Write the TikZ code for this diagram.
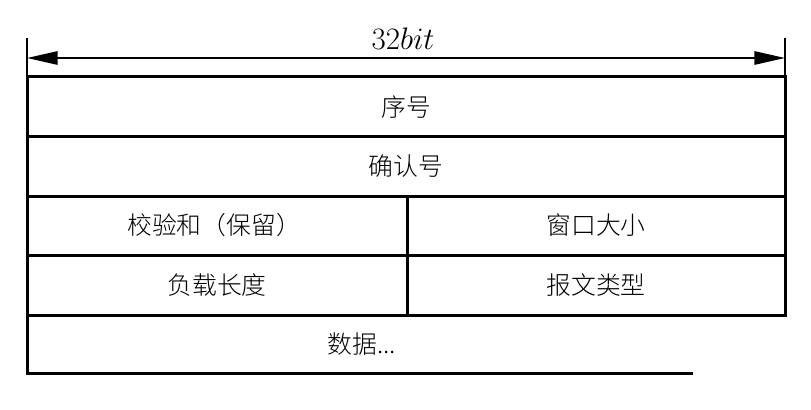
\documentclass[tikz,border=0pt]{standalone}
\usepackage{fontspec}
\newfontfamily\cjk{Noto Sans CJK SC}[UprightFont={* Light}]
\usetikzlibrary{arrows.meta}

\begin{document}
\begin{tikzpicture}[x=0.75pt,y=-0.75pt]
      \tikzstyle{every node}+=[inner sep=0pt, font=\cjk\fontsize{18.6}{20}\selectfont]
      \tikzstyle{field}=[draw=black, line width=2.25pt]
      \tikzstyle{tick}=[draw=black, line width=1pt]
      \tikzstyle{dimline}=[draw=black, line width=1.5pt, {Triangle[length=23pt,width=10pt]}-{Triangle[length=23pt,width=10pt]}]
      \useasboundingbox (0,0) rectangle (811,410);
      % width marker
      \coordinate (lt) at (27,38);
      \coordinate (rt) at (785,38);
      \coordinate (la) at (27,58);
      \coordinate (ra) at (785,58);
      \draw [tick] (lt) -- (27,77);
      \draw [tick] (rt) -- (785,77);
      \draw [dimline] (la) -- (ra);
      \node (width) at (403,39) {\scalebox{1.35}{$32bit$}};
      % header fields
      \draw [field] (27,77) rectangle (785,137);
      \draw [field] (27,137) rectangle (785,196);
      \draw [field] (27,196) rectangle (407,255);
      \draw [field] (407,196) rectangle (785,255);
      \draw [field] (27,255) rectangle (407,315);
      \draw [field] (407,255) rectangle (785,315);
      \draw [field] (27,315) -- (27,373) -- (693,373);
      \node (seq) at (406,107) {序号};
      \node (ack) at (406,166.5) {确认号};
      \node (chk) at (214,225.5) {校验和（保留）};
      \node (win) at (596,225.5) {窗口大小};
      \node (len) at (217,285) {负载长度};
      \node (type) at (596,285) {报文类型};
      \node (data) at (362,344) {数据...};
\end{tikzpicture}
\end{document}
